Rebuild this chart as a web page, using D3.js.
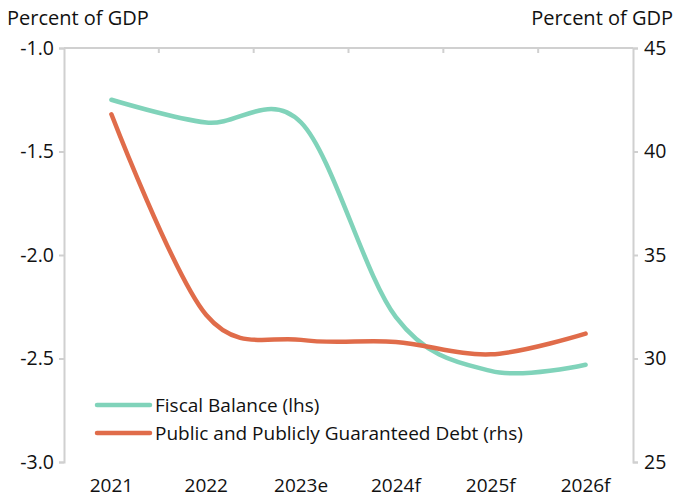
<!DOCTYPE html>
<html>
<head>
<meta charset="utf-8">
<script src="https://cdn.jsdelivr.net/npm/d3@7"></script>
<style>
  body { margin: 0; background: #fff; }
  svg { display: block; font-family: "Open Sans", sans-serif; }
</style>
</head>
<body>
<svg width="678" height="498"></svg>
<script>
// Data
var years = ['2021', '2022', '2023e', '2024f', '2025f', '2026f'];
var fiscalBalance = [-1.25, -1.36, -1.36, -2.30, -2.56, -2.53];
var publicDebt = [41.8, 32.1, 30.9, 30.8, 30.2, 31.2];
var leftTicks = [-3.0, -2.5, -2.0, -1.5, -1.0];
var rightTicks = [25, 30, 35, 40, 45];
var seriesNames = ['Fiscal Balance (lhs)', 'Public and Publicly Guaranteed Debt (rhs)'];

var svg = d3.select('svg');
var margin = {top: 48, right: 45, bottom: 36, left: 64};
var width = 678 - margin.left - margin.right;
var height = 498 - margin.top - margin.bottom;
var axisColor = '#d0d0d0';
var colors = ['#80d3ba', '#e06c4a'];

var g = svg.append('g')
    .attr('transform', 'translate(' + margin.left + ',' + margin.top + ')');

// Scales
var x = d3.scaleBand().domain(years).range([0, width]);
var yL = d3.scaleLinear().domain([-3, -1]).range([height, 0]);
var yR = d3.scaleLinear().domain([25, 45]).range([height, 0]);

// Left axis
var left = g.append('g')
    .call(d3.axisLeft(yL).tickValues(leftTicks).tickSize(5).tickPadding(5)
        .tickFormat(function(d){ return d.toFixed(1); }));
// Right axis
var right = g.append('g')
    .attr('transform', 'translate(' + width + ',0)')
    .call(d3.axisRight(yR).tickValues(rightTicks).tickSize(5).tickPadding(6));

[left, right].forEach(function(a){
    a.select('.domain').attr('stroke', axisColor).attr('stroke-width', 2);
    a.selectAll('.tick line').attr('stroke', axisColor).attr('stroke-width', 2);
    a.selectAll('.tick text')
        .attr('fill', '#111')
        .style('font-size', '19.5px')
        .style('font-family', '"Open Sans", sans-serif');
});

// Category axis line along the top with ticks at band boundaries
g.append('line')
    .attr('x1', 0).attr('x2', width)
    .attr('y1', 0).attr('y2', 0)
    .attr('stroke', axisColor).attr('stroke-width', 2);
g.selectAll('.cat-tick')
    .data(years.slice(1))
    .enter()
    .append('line')
    .attr('x1', function(d){ return x(d); })
    .attr('x2', function(d){ return x(d); })
    .attr('y1', 0).attr('y2', 5)
    .attr('stroke', axisColor).attr('stroke-width', 2);

// Category labels at the bottom
var bottom = g.append('g')
    .attr('transform', 'translate(0,' + height + ')')
    .call(d3.axisBottom(x).tickSize(0).tickPadding(17));
bottom.select('.domain').remove();
bottom.selectAll('.tick text')
    .attr('fill', '#111')
    .style('font-size', '19px')
    .style('font-family', '"Open Sans", sans-serif');

// Lines
var cx = function(d, i){ return x(years[i]) + x.bandwidth() / 2; };
var lineL = d3.line().x(cx).y(function(d){ return yL(d); })
    .curve(d3.curveCardinal.tension(0));
var lineR = d3.line().x(cx).y(function(d){ return yR(d); })
    .curve(d3.curveCardinal.tension(0));

g.append('path')
    .datum(fiscalBalance)
    .attr('d', lineL)
    .attr('fill', 'none')
    .attr('stroke', colors[0])
    .attr('stroke-width', 4.5)
    .attr('stroke-linecap', 'round');

g.append('path')
    .datum(publicDebt)
    .attr('d', lineR)
    .attr('fill', 'none')
    .attr('stroke', colors[1])
    .attr('stroke-width', 4.5)
    .attr('stroke-linecap', 'round');

// Axis titles
svg.append('text')
    .attr('x', 7).attr('y', 25)
    .attr('fill', '#111')
    .style('font-size', '20px')
    .text('Percent of GDP');
svg.append('text')
    .attr('x', 673).attr('y', 25)
    .attr('text-anchor', 'end')
    .attr('fill', '#111')
    .style('font-size', '20px')
    .text('Percent of GDP');

// Legend
var legend = svg.append('g').attr('transform', 'translate(97,405)');
var items = legend.selectAll('g')
    .data(seriesNames)
    .enter()
    .append('g')
    .attr('transform', function(d, i){ return 'translate(0,' + (i * 28) + ')'; });
items.append('line')
    .attr('x1', 0).attr('x2', 53)
    .attr('y1', 0).attr('y2', 0)
    .attr('stroke', function(d, i){ return colors[i]; })
    .attr('stroke-width', 4.5)
    .attr('stroke-linecap', 'round');
items.append('text')
    .attr('x', 58).attr('y', 7)
    .attr('fill', '#111')
    .style('font-size', '19px')
    .text(function(d){ return d; });
</script>
</body>
</html>
